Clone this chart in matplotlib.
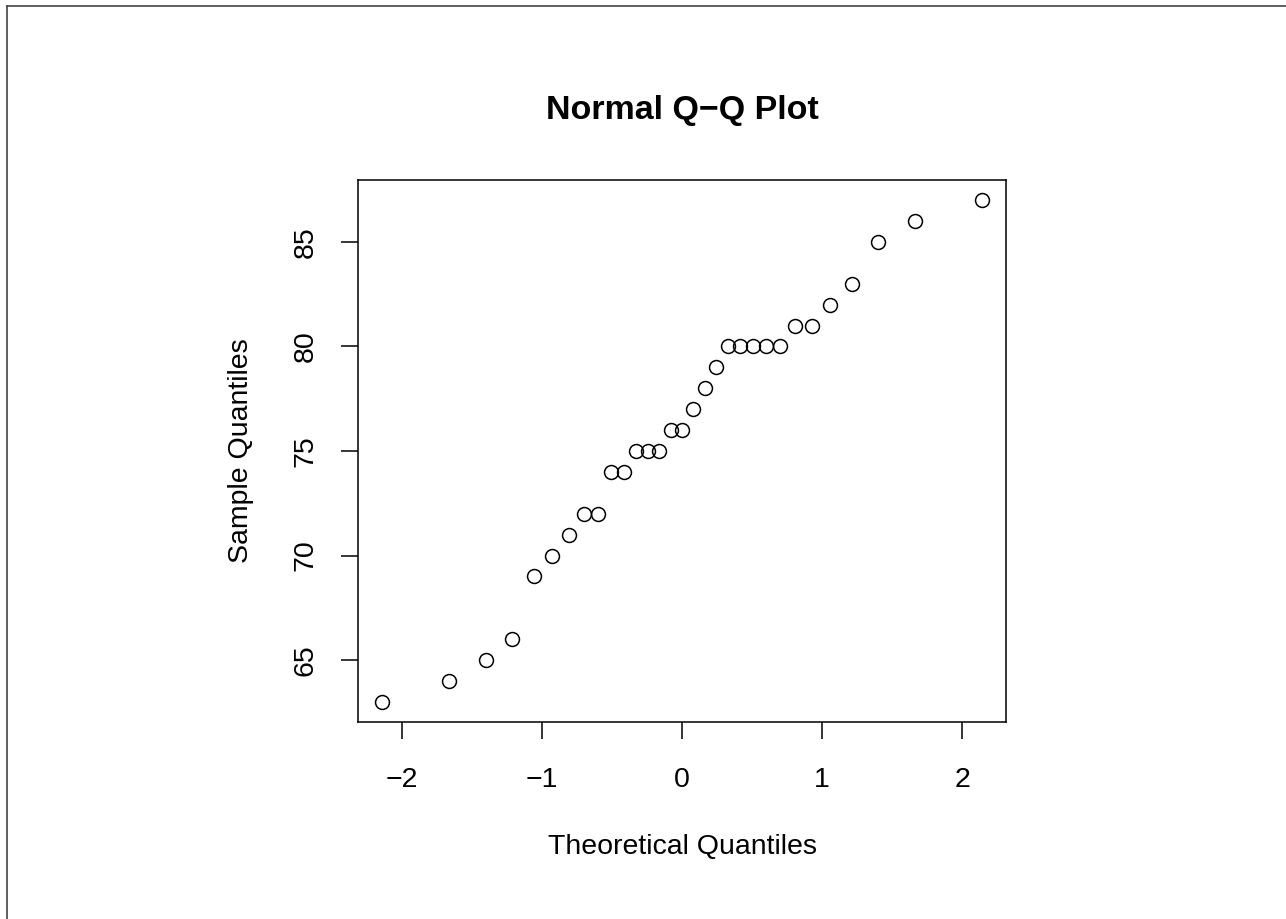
'''
Normal Q-Q plot, R style
'''

import matplotlib
matplotlib.use('Agg')
import matplotlib.pyplot as plt
from matplotlib.lines import Line2D

# theoretical quantiles (n = 31)
theoretical = [-2.141, -1.660, -1.401, -1.211, -1.057, -0.925, -0.807, -0.700,
               -0.601, -0.506, -0.416, -0.330, -0.245, -0.162, -0.081, 0.0,
               0.081, 0.162, 0.245, 0.330, 0.416, 0.506, 0.601, 0.700,
               0.807, 0.925, 1.057, 1.211, 1.401, 1.660, 2.141]
sample = [63, 64, 65, 66, 69, 70, 71, 72, 72, 74, 74, 75, 75, 75, 76, 76,
          77, 78, 79, 80, 80, 80, 80, 80, 81, 81, 82, 83, 85, 86, 87]
xticks = [-2, -1, 0, 1, 2]
yticks = [65, 70, 75, 80, 85]

plt.rcParams['font.family'] = ['Liberation Sans', 'DejaVu Sans']

fig = plt.figure(figsize=(12.86, 9.19), dpi=100)
ax = fig.add_axes([358 / 1286, 1 - 722 / 919, (1006 - 358) / 1286, (722 - 180) / 919])

ax.plot(theoretical, sample, 'o', mfc='none', mec='black', ms=10, mew=1.1)

# R extends the range by 4% on each side
def padded(vals):
    lo, hi = min(vals), max(vals)
    d = (hi - lo) * 0.04
    return lo - d, hi + d

ax.set_xlim(*padded(theoretical))
ax.set_ylim(*padded(sample))
ax.set_xticks(xticks)
ax.set_yticks(yticks)
ax.set_xticklabels(['\u2212' + str(-t) if t < 0 else str(t) for t in xticks])
ax.set_yticklabels([str(t) for t in yticks], rotation=90, va='center')

for s in ax.spines.values():
    s.set_linewidth(1.1)
ax.tick_params(length=12.2, width=1.1, labelsize=20.5)
ax.tick_params(axis='x', pad=20)
ax.tick_params(axis='y', pad=16)

ax.set_xlabel('Theoretical Quantiles', fontsize=20.5, labelpad=30)
ax.set_ylabel('Sample Quantiles', fontsize=20.5, labelpad=28)
ax.set_title('Normal Q\u2212Q Plot', fontsize=24.5, fontweight='bold', pad=44)

# thin gray frame on top and left edge of the picture
fig.add_artist(Line2D([7 / 1286, 7 / 1286], [0, 1 - 6 / 919], color='#444444', lw=1.2))
fig.add_artist(Line2D([7 / 1286, 1], [1 - 6 / 919, 1 - 6 / 919], color='#444444', lw=1.2))

fig.savefig('out.png', dpi=100)
